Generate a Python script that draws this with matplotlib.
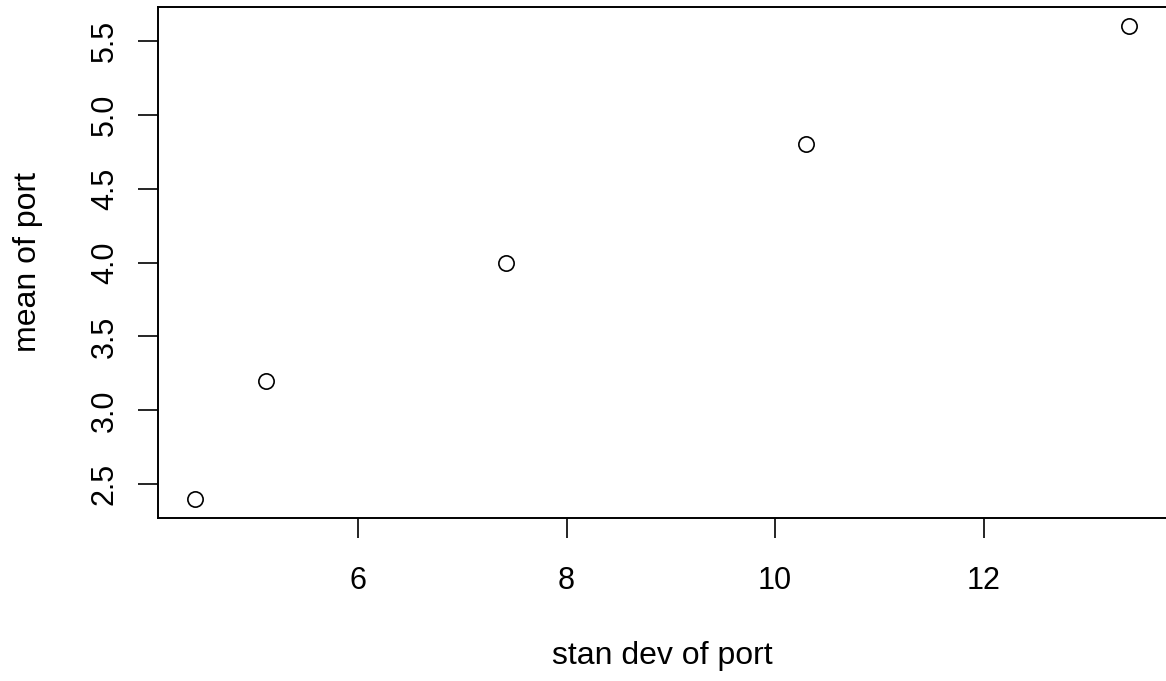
import matplotlib.pyplot as plt

plt.rcParams['font.family'] = ['Liberation Sans', 'DejaVu Sans']

# data
sd_port = [4.44, 5.12, 7.42, 10.30, 13.39]
mean_port = [2.4, 3.2, 4.0, 4.8, 5.6]
x_ticks = [6, 8, 10, 12]
y_ticks = [2.5, 3.0, 3.5, 4.0, 4.5, 5.0, 5.5]

fig = plt.figure(figsize=(11.66, 6.81), dpi=100)
ax = fig.add_axes([158 / 1166, 163 / 681, 1008 / 1166, 511 / 681])

ax.plot(sd_port, mean_port, 'o', mfc='white', mec='black', ms=11, mew=1.2)

# R style: 4% padding around data range
xr = max(sd_port) - min(sd_port)
yr = max(mean_port) - min(mean_port)
ax.set_xlim(min(sd_port) - 0.04 * xr, max(sd_port) + 0.04 * xr)
ax.set_ylim(min(mean_port) - 0.04 * yr, max(mean_port) + 0.04 * yr)

ax.set_xticks(x_ticks)
ax.set_yticks(y_ticks)
ax.set_yticklabels([f"{v:.1f}" for v in y_ticks], rotation=90, va='center')
ax.tick_params(direction='out', length=14.5, width=1.2, labelsize=22)
ax.tick_params(axis='x', pad=20)
ax.tick_params(axis='y', pad=13)

for s in ax.spines.values():
    s.set_linewidth(1.4)
ax.spines['right'].set_visible(False)

ax.set_xlabel("stan dev of port", fontsize=23)
ax.set_ylabel("mean of port", fontsize=23)
ax.xaxis.set_label_coords(0.5, -0.241)
ax.yaxis.set_label_coords(-0.114, 0.5)

fig.savefig("out.png", dpi=100)
